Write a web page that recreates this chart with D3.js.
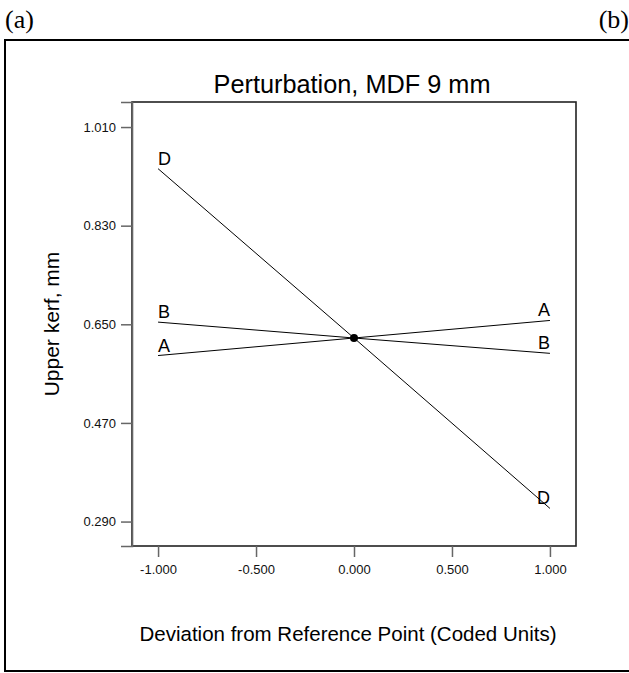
<!DOCTYPE html>
<html>
<head>
<meta charset="utf-8">
<script src="https://cdn.jsdelivr.net/npm/d3@7"></script>
<style>
  html, body { margin: 0; padding: 0; background: #fff; }
  svg { display: block; }
</style>
</head>
<body>
<svg id="chart" width="629" height="673"></svg>
<script>
// Coded deviation levels and the response of each factor at those levels
const levels = [-1, 0, 1];
const factorNames = ["A", "B", "D"];
const valuesA = [0.593, 0.625, 0.657];
const valuesB = [0.654, 0.625, 0.597];
const valuesD = [0.934, 0.625, 0.314];
const referencePoint = [0, 0.625];

const xTicks = [-1, -0.5, 0, 0.5, 1];
const yTicks = [0.290, 0.470, 0.650, 0.830, 1.010];

const titleText = "Perturbation, MDF 9 mm";
const xTitle = "Deviation from Reference Point (Coded Units)";
const yTitle = "Upper kerf, mm";

const series = [
  { name: factorNames[0], values: valuesA },
  { name: factorNames[1], values: valuesB },
  { name: factorNames[2], values: valuesD }
];

const svg = d3.select("#chart");
const sans = "Arial, 'Liberation Sans', Helvetica, sans-serif";
const serif = "'Times New Roman', 'Liberation Serif', serif";

// Fixed three-decimal labels with a plain hyphen for negatives
const fmt3 = d => d3.format(".3f")(d).replace("\u2212", "-");

// Panel labels and outer frame
svg.append("text").attr("x", 5).attr("y", 28)
  .attr("font-family", serif).attr("font-size", 26).attr("fill", "#000").text("(a)");
svg.append("text").attr("x", 629).attr("y", 28).attr("text-anchor", "end")
  .attr("font-family", serif).attr("font-size", 26).attr("fill", "#000").text("(b)");
svg.append("path")
  .attr("d", "M640,40 H5 V671 H640")
  .attr("fill", "none").attr("stroke", "#000").attr("stroke-width", 2);

// Plot area
const plot = { left: 132, right: 576, top: 102, bottom: 546 };
const x = d3.scaleLinear().domain([-1.133, 1.133]).range([plot.left, plot.right]);
const y = d3.scaleLinear().domain([0.2454, 1.0557]).range([plot.bottom, plot.top]);

svg.append("rect")
  .attr("x", plot.left).attr("y", plot.top)
  .attr("width", plot.right - plot.left).attr("height", plot.bottom - plot.top)
  .attr("fill", "none").attr("stroke", "#222").attr("stroke-width", 1.6);

// Axes
const xAxis = d3.axisBottom(x).tickValues(xTicks).tickFormat(fmt3)
  .tickSize(11).tickPadding(8);
const gx = svg.append("g").attr("transform", `translate(0,${plot.bottom})`).call(xAxis);
gx.select(".domain").remove();

const yAxis = d3.axisLeft(y).tickValues(yTicks).tickFormat(fmt3)
  .tickSize(11).tickPadding(5);
const gy = svg.append("g").attr("transform", `translate(${plot.left},0)`).call(yAxis);
gy.select(".domain").attr("stroke", "#666").attr("stroke-width", 1.6);

[gx, gy].forEach(g => {
  g.attr("font-family", sans).attr("font-size", 13);
  g.selectAll(".tick line").attr("stroke", "#666").attr("stroke-width", 1.5);
  g.selectAll(".tick text").attr("font-family", sans).attr("font-size", 13).attr("fill", "#111");
});

// Title and axis titles
svg.append("text").attr("x", 352).attr("y", 93)
  .attr("text-anchor", "middle").attr("font-family", sans).attr("font-size", 25.3)
  .attr("fill", "#000").text(titleText);
svg.append("text").attr("x", 348).attr("y", 641)
  .attr("text-anchor", "middle").attr("font-family", sans).attr("font-size", 20.5)
  .attr("fill", "#000").text(xTitle);
svg.append("text")
  .attr("transform", `translate(59,${(plot.top + plot.bottom) / 2}) rotate(-90)`)
  .attr("text-anchor", "middle").attr("font-family", sans).attr("font-size", 21)
  .attr("fill", "#000").text(yTitle);

// Factor lines
const line = d3.line().x((d, i) => x(levels[i])).y(d => y(d));
svg.append("g").selectAll("path").data(series).join("path")
  .attr("d", d => line(d.values))
  .attr("fill", "none").attr("stroke", "#000").attr("stroke-width", 1);

// Letter labels at both ends of every line
const labels = svg.append("g").attr("font-family", sans).attr("font-size", 18).attr("fill", "#000");
series.forEach(s => {
  labels.append("text")
    .attr("x", x(levels[0])).attr("y", y(s.values[0]) - 4)
    .attr("text-anchor", "start").text(s.name);
  labels.append("text")
    .attr("x", x(levels[levels.length - 1])).attr("y", y(s.values[s.values.length - 1]) - 4)
    .attr("text-anchor", "end").text(s.name);
});

// Reference point
svg.append("circle")
  .attr("cx", x(referencePoint[0])).attr("cy", y(referencePoint[1]))
  .attr("r", 4).attr("fill", "#000");
</script>
</body>
</html>
